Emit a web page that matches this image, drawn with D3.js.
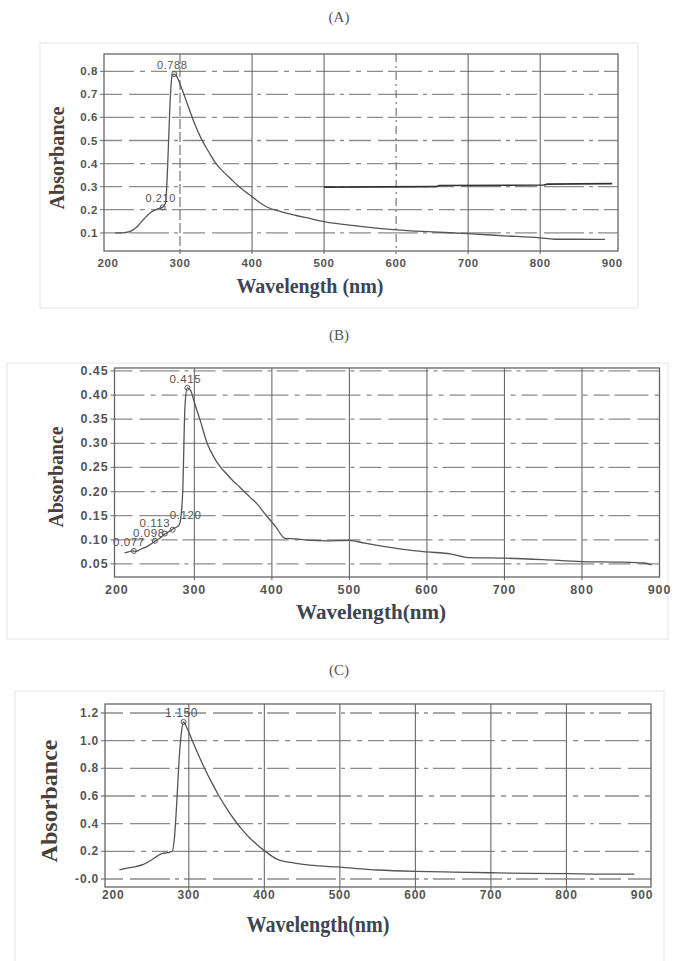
<!DOCTYPE html>
<html>
<meta charset="utf-8">
<style>
  body { margin: 0; background: #fff; }
  .tick-label { font-family: "Liberation Sans", Arial, sans-serif; font-weight: bold; fill: #555; }
  .peak-label { font-family: "Liberation Sans", Arial, sans-serif; fill: #555; }
  .axis-title { font-family: "Liberation Serif", "Times New Roman", serif; font-weight: bold; }
  .panel-title { font-family: "Liberation Serif", "Times New Roman", serif; fill: #555; font-size: 15px; }
</style>
<svg width="679" height="961"></svg>
<script src="https://d3js.org/d3.v7.min.js"></script>
<script>

  // x ticks (nm), shared by the three spectra
  var xTicks = [200, 300, 400, 500, 600, 700, 800, 900];

  // (A)
  var wlA = [210, 220, 230, 240, 250, 260, 270, 276, 280, 283, 286, 289, 292, 295, 300, 310, 320, 330, 340, 350,
    360, 370, 380, 390, 400, 410, 420, 440, 460, 480, 500, 550, 600, 650, 700, 750, 800, 820, 850, 890];
  var absA = [0.100, 0.100, 0.105, 0.125, 0.160, 0.190, 0.205, 0.210, 0.230, 0.400, 0.650, 0.780, 0.788, 0.780, 0.745, 0.660, 0.575, 0.505, 0.450, 0.400,
    0.365, 0.335, 0.305, 0.280, 0.257, 0.232, 0.213, 0.192, 0.176, 0.162, 0.148, 0.128, 0.113, 0.104, 0.096, 0.087, 0.078, 0.072, 0.072, 0.071];
  // dark straight stroke across the right half of scan (A)
  var wlA2 = [500, 655, 660, 805, 810, 900];
  var absA2 = [0.298, 0.300, 0.305, 0.307, 0.311, 0.313];
  var yTicksA = [0.1, 0.2, 0.3, 0.4, 0.5, 0.6, 0.7, 0.8];
  var yLabelsA = ["0.1", "0.2", "0.3", "0.4", "0.5", "0.6", "0.7", "0.8"];
  var peakWlA = [292, 276];
  var peakAbsA = [0.788, 0.210];
  var peakTextA = ["0.788", "0.210"];

  // (B)
  var wlB = [210, 215, 220, 225, 230, 240, 250, 256, 262, 268, 274, 280, 282, 285, 288, 291, 295, 300, 308, 317,
    325, 334, 342, 350, 358, 365, 372, 380, 392, 405, 417, 430, 450, 470, 500, 520, 550, 580, 600, 630,
    655, 700, 750, 800, 850, 880, 890];
  var absB = [0.073, 0.075, 0.077, 0.076, 0.080, 0.087, 0.098, 0.104, 0.112, 0.118, 0.124, 0.130, 0.140, 0.200, 0.380, 0.415, 0.410, 0.385, 0.345, 0.298,
    0.272, 0.250, 0.236, 0.222, 0.210, 0.199, 0.188, 0.176, 0.152, 0.127, 0.103, 0.102, 0.099, 0.098, 0.099, 0.093, 0.085, 0.078, 0.075, 0.071,
    0.063, 0.062, 0.059, 0.055, 0.054, 0.052, 0.048];
  var yTicksB = [0.05, 0.10, 0.15, 0.20, 0.25, 0.30, 0.35, 0.40, 0.45];
  var yLabelsB = ["0.05", "0.10", "0.15", "0.20", "0.25", "0.30", "0.35", "0.40", "0.45"];
  var peakWlB = [291, 222, 249, 262, 272];
  var peakAbsB = [0.415, 0.077, 0.098, 0.113, 0.121];
  var peakTextB = ["0.415", "0.077", "0.098", "0.113", "0.120"];

  // (C)
  var wlC = [208, 220, 230, 240, 250, 258, 265, 272, 278, 281, 284, 287, 290, 293, 296, 300, 310, 320, 330, 340,
    350, 360, 370, 380, 390, 400, 410, 418, 440, 460, 500, 550, 600, 650, 700, 750, 800, 850, 890];
  var absC = [0.065, 0.080, 0.090, 0.105, 0.135, 0.165, 0.185, 0.190, 0.200, 0.300, 0.550, 0.850, 1.050, 1.135, 1.110, 1.060, 0.930, 0.810, 0.700, 0.600,
    0.510, 0.430, 0.360, 0.300, 0.250, 0.205, 0.165, 0.140, 0.115, 0.100, 0.085, 0.065, 0.055, 0.050, 0.045, 0.040, 0.038, 0.035, 0.035];
  var yTicksC = [0, 0.2, 0.4, 0.6, 0.8, 1.0, 1.2];
  var yLabelsC = ["-0.0", "0.2", "0.4", "0.6", "0.8", "1.0", "1.2"];
  var peakWlC = [293];
  var peakAbsC = [1.135];
  var peakTextC = ["1.150"];

  var svg = d3.select("svg");

  function zip(a, b) { return a.map(function (d, i) { return [d, b[i]]; }); }

  function drawPanel(p) {
    var g = svg.append("g");

    // light frame around each figure
    g.append("rect")
      .attr("x", p.box[0]).attr("y", p.box[1])
      .attr("width", p.box[2] - p.box[0]).attr("height", p.box[3] - p.box[1])
      .attr("fill", "none").attr("stroke", "#e4e4e4");

    g.append("text").attr("class", "panel-title")
      .attr("x", 339).attr("y", p.titleY)
      .attr("text-anchor", "middle").text(p.title);

    var x = d3.scaleLinear().domain(p.xDom).range([p.left, p.right]);
    var y = d3.scaleLinear().domain(p.yDom).range([p.bottom, p.top]);

    // horizontal grid (broken dashes, like the scanned printout)
    g.selectAll(".hgrid").data(p.yTicks).enter().append("line")
      .attr("x1", p.left - 4).attr("x2", p.right)
      .attr("y1", function (d) { return y(d); }).attr("y2", function (d) { return y(d); })
      .attr("stroke", "#8c8c8c").attr("stroke-width", 1.3)
      .attr("stroke-dasharray", function (d, i) { return i % 2 ? "34 6 5 6 16 5" : "22 7 40 5 4 5"; });

    // vertical grid
    g.selectAll(".vgrid").data(xTicks.slice(1, -1)).enter().append("line")
      .attr("x1", function (d) { return x(d); }).attr("x2", function (d) { return x(d); })
      .attr("y1", p.top).attr("y2", p.bottom + 3)
      .attr("stroke", "#6a6a6a").attr("stroke-width", 1.1)
      .attr("stroke-dasharray", function (d, i) { return p.vDash[i] || null; });

    // plot frame
    g.append("rect")
      .attr("x", p.left).attr("y", p.top)
      .attr("width", p.right - p.left).attr("height", p.bottom - p.top)
      .attr("fill", "none").attr("stroke", "#666").attr("stroke-width", 1.3);

    // tick labels
    g.selectAll(".xl").data(xTicks).enter().append("text")
      .attr("class", "tick-label")
      .attr("x", function (d) { return x(d); })
      .attr("y", p.xLabelY)
      .attr("text-anchor", "middle")
      .style("font-size", p.tickSize + "px").style("letter-spacing", p.tickSpacing + "px")
      .text(function (d) { return d; });

    g.selectAll(".yl").data(p.yTicks).enter().append("text")
      .attr("class", "tick-label")
      .attr("x", p.left - 6)
      .attr("y", function (d) { return y(d) + 4; })
      .attr("text-anchor", "end")
      .style("font-size", p.tickSize + "px").style("letter-spacing", p.tickSpacing + "px")
      .text(function (d, i) { return p.yLabels[i]; });

    var line = d3.line()
      .curve(d3.curveMonotoneX)
      .x(function (d) { return x(d[0]); })
      .y(function (d) { return y(d[1]); });

    p.series.forEach(function (s) {
      g.append("path")
        .datum(s.data)
        .attr("d", s.straight ? d3.line().x(line.x()).y(line.y()) : line)
        .attr("fill", "none")
        .attr("stroke", s.color)
        .attr("stroke-width", s.width);
    });

    // peak markers
    var peaks = p.peakWl.map(function (d, i) { return { wl: d, v: p.peakAbs[i], t: p.peakText[i], s: p.labelShift[i] || [0, 0] }; });
    g.selectAll(".pk").data(peaks).enter().append("circle")
      .attr("cx", function (d) { return x(d.wl); })
      .attr("cy", function (d) { return y(d.v); })
      .attr("r", 2.5)
      .attr("fill", "none").attr("stroke", "#555");
    g.selectAll(".pt").data(peaks).enter().append("text")
      .attr("class", "peak-label")
      .attr("x", function (d) { return x(d.wl) - 2 + d.s[0]; })
      .attr("y", function (d) { return y(d.v) - 5 + d.s[1]; })
      .attr("text-anchor", "middle")
      .style("font-size", p.peakSize + "px").style("letter-spacing", "0.6px")
      .text(function (d) { return d.t; });

    // axis titles
    g.append("text").attr("class", "axis-title")
      .attr("x", p.xTitle[0]).attr("y", p.xTitle[1])
      .attr("text-anchor", "middle")
      .attr("fill", "#3d4452")
      .style("font-size", p.xTitle[2] + "px")
      .attr("textLength", p.xTitle[3]).attr("lengthAdjust", "spacingAndGlyphs")
      .text(p.xTitleText);

    g.append("text").attr("class", "axis-title")
      .attr("transform", "translate(" + p.yTitle[0] + "," + p.yTitle[1] + ") rotate(-90)")
      .attr("text-anchor", "middle")
      .attr("fill", "#4a4038")
      .style("font-size", p.yTitle[2] + "px")
      .attr("textLength", p.yTitle[3]).attr("lengthAdjust", "spacingAndGlyphs")
      .text("Absorbance");
  }

  drawPanel({
    title: "(A)", titleY: 22, box: [40, 43, 638, 308],
    left: 104, right: 618, top: 54, bottom: 251,
    xDom: [194.5, 908], yDom: [0.021, 0.875],
    yTicks: yTicksA, yLabels: yLabelsA, xLabelY: 267, tickSize: 11.5, tickSpacing: 0.6,
    vDash: ["10 3", null, null, "8 4 2 4"],
    series: [
      { data: zip(wlA, absA), color: "#555", width: 1.3 },
      { data: zip(wlA2, absA2), color: "#333", width: 1.6, straight: true }
    ],
    peakWl: peakWlA, peakAbs: peakAbsA, peakText: peakTextA, peakSize: 11, labelShift: [],
    xTitleText: "Wavelength (nm)", xTitle: [310, 293, 20, 147],
    yTitle: [64, 158, 20, 103]
  });

  drawPanel({
    title: "(B)", titleY: 340, box: [7, 363, 668, 639],
    left: 114.5, right: 659.5, top: 368, bottom: 577,
    xDom: [197, 900], yDom: [0.023, 0.456],
    yTicks: yTicksB, yLabels: yLabelsB, xLabelY: 594, tickSize: 12.5, tickSpacing: 0.9,
    vDash: [],
    series: [{ data: zip(wlB, absB), color: "#555", width: 1.3 }],
    peakWl: peakWlB, peakAbs: peakAbsB, peakText: peakTextB, peakSize: 11.5,
    labelShift: [[0, 0], [-3, 0], [-4, 1], [-8, -2], [15, -6]],
    xTitleText: "Wavelength(nm)", xTitle: [371, 619, 21, 150],
    yTitle: [63, 477, 20, 101]
  });

  drawPanel({
    title: "(C)", titleY: 675, box: [15, 691, 664, 975],
    left: 105, right: 651, top: 704, bottom: 887,
    xDom: [189, 912], yDom: [-0.058, 1.265],
    yTicks: yTicksC, yLabels: yLabelsC, xLabelY: 899, tickSize: 12, tickSpacing: 0.8,
    vDash: [],
    series: [{ data: zip(wlC, absC), color: "#555", width: 1.3 }],
    peakWl: peakWlC, peakAbs: peakAbsC, peakText: peakTextC, peakSize: 12, labelShift: [],
    xTitleText: "Wavelength(nm)", xTitle: [318, 932, 24, 143],
    yTitle: [57, 801, 24, 123]
  });

</script>
</html>
